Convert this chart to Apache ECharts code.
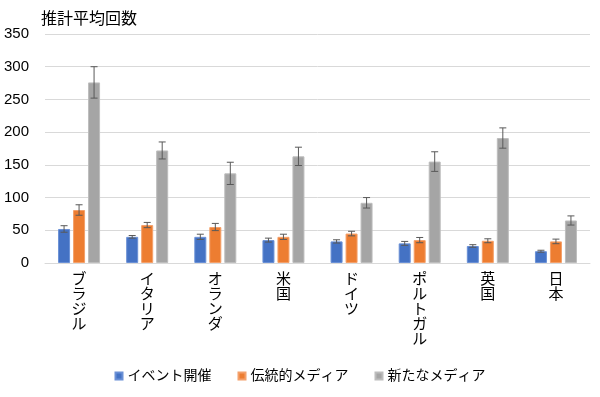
<!DOCTYPE html>
<html><head><meta charset="utf-8">
<script src="https://cdn.jsdelivr.net/npm/echarts@6/dist/echarts.min.js"></script>
<style>html,body{margin:0;padding:0;background:#fff}#c{width:600px;height:397px}</style>
</head><body><div id="c"></div>
<script>
const categories = ['ブラジル','イタリア','オランダ','米国','ドイツ','ポルトガル','英国','日本'];
const seriesNames = ['イベント開催','伝統的メディア','新たなメディア'];
const eventVals = [52, 40, 40, 35, 33, 30, 26, 18];
const eventErr  = [5, 2, 4, 3, 2.5, 3, 2, 1.5];
const tradVals  = [81, 58, 55, 40, 45, 35, 34, 33];
const tradErr   = [8, 4, 5.5, 4, 3.5, 4, 3, 3.5];
const newVals   = [276, 172, 137, 163, 92, 155, 191, 65];
const newErr    = [24, 13, 17, 14, 8, 15, 15.5, 7];
const yTicks = [0, 50, 100, 150, 200, 250, 300, 350];
const colors = ['#4472C4', '#ED7D31', '#A5A5A5'];
const borders = ['#6A90D6', '#F4A06A', '#BDBDBD'];

const FONT = '"Liberation Sans", "Noto Sans CJK JP", sans-serif';
const chart = echarts.init(document.getElementById('c'));
const allVals = [eventVals, tradVals, newVals];
const allErr = [eventErr, tradErr, newErr];
const BW = 12, STEP = 15;

const series = [];
allVals.forEach((vals, si) => {
  series.push({
    name: seriesNames[si], type: 'bar', data: vals, barWidth: BW, barGap: '25%',
    itemStyle: {color: colors[si], borderColor: borders[si], borderWidth: 1}
  });
});
allVals.forEach((vals, si) => {
  series.push({
    type: 'custom', silent: true, z: 5,
    data: vals.map((v, i) => [i, v - allErr[si][i], v + allErr[si][i]]),
    encode: {x: 0, y: [1, 2]},
    renderItem: function (params, api) {
      const lo = api.coord([api.value(0), api.value(1)]);
      const hi = api.coord([api.value(0), api.value(2)]);
      const x = lo[0] + (si - 1) * STEP;
      const st = {stroke: '#595959', lineWidth: 1};
      return {type: 'group', children: [
        {type: 'line', shape: {x1: x, y1: lo[1], x2: x, y2: hi[1]}, style: st},
        {type: 'line', shape: {x1: x - 3.5, y1: lo[1], x2: x + 3.5, y2: lo[1]}, style: st},
        {type: 'line', shape: {x1: x - 3.5, y1: hi[1], x2: x + 3.5, y2: hi[1]}, style: st}
      ]};
    }
  });
});

chart.setOption({
  animation: false,
  title: {text: '推計平均回数', left: 36, top: 7,
    textStyle: {fontSize: 16, fontWeight: 'normal', color: '#000', fontFamily: FONT}},
  grid: {left: 45, right: 10, top: 34, bottom: 134},
  legend: {
    data: seriesNames, bottom: 9, left: 'center', itemWidth: 7, itemHeight: 7, itemGap: 26,
    icon: 'rect', textStyle: {fontSize: 14, color: '#000', fontFamily: FONT}
  },
  xAxis: {
    type: 'category', data: categories,
    axisTick: {show: false},
    axisLine: {lineStyle: {color: '#D9D9D9', width: 1}},
    axisLabel: {
      interval: 0, margin: 9, fontSize: 15, lineHeight: 15, color: '#000', fontFamily: FONT,
      verticalAlign: 'top',
      formatter: v => v.split('').join('\n')
    }
  },
  yAxis: {
    type: 'value', min: yTicks[0], max: yTicks[yTicks.length - 1], interval: 50,
    axisLine: {show: false}, axisTick: {show: false},
    splitLine: {lineStyle: {color: '#D9D9D9', width: 1}},
    axisLabel: {fontSize: 15, color: '#000', margin: 16, fontFamily: FONT}
  },
  series: series
});
</script></body></html>
